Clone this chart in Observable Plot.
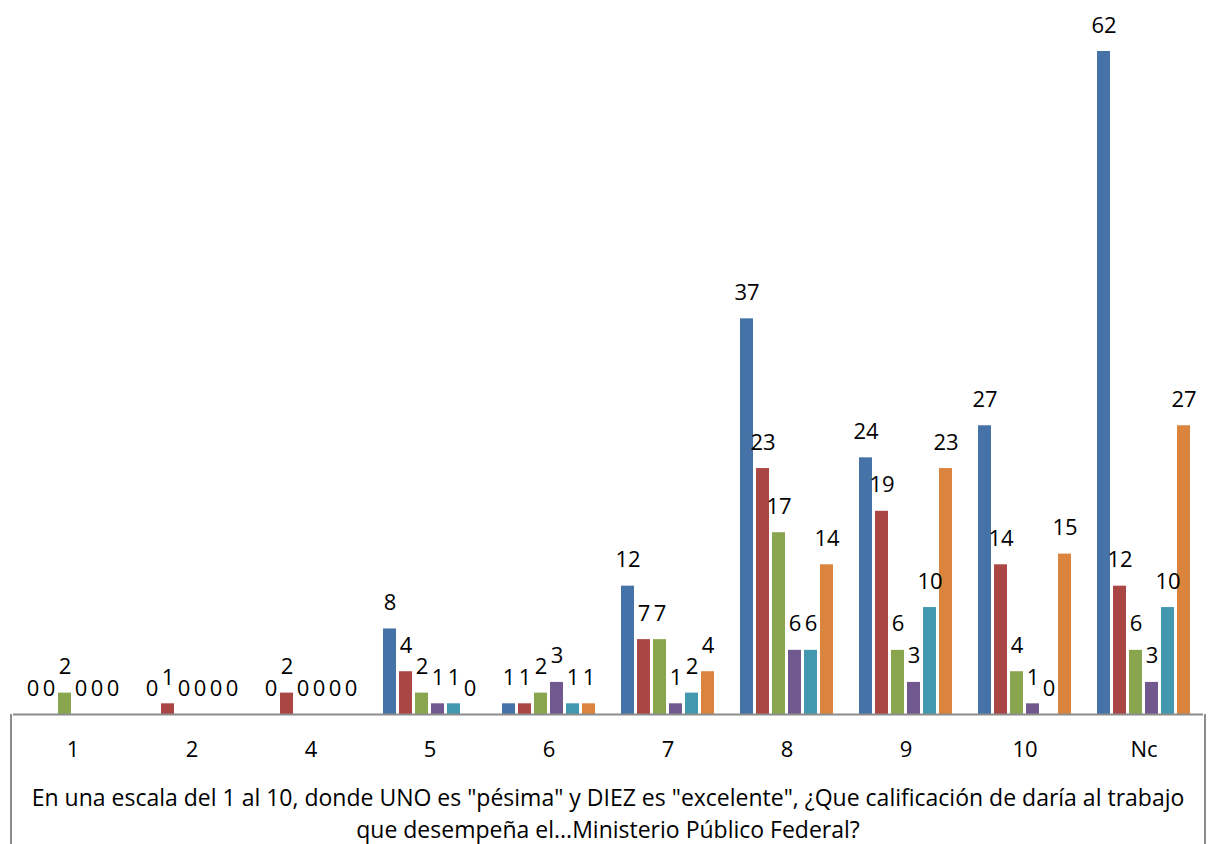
<!DOCTYPE html>
<html>
<head>
<meta charset="utf-8">
<script src="https://cdn.jsdelivr.net/npm/d3@7"></script>
<script src="https://cdn.jsdelivr.net/npm/@observablehq/plot@0.6"></script>
<style>
  html, body { margin: 0; padding: 0; background: #fff; }
  #chart svg { display: block; }
</style>
</head>
<body>
<div id="chart"></div>
<script>
// Categories (answers on the 1–10 scale, plus "No contestó")
const categories = ["1", "2", "4", "5", "6", "7", "8", "9", "10", "Nc"];
// Series names (no legend in the original)
const seriesNames = ["Serie 1", "Serie 2", "Serie 3", "Serie 4", "Serie 5", "Serie 6"];
// Values per series, in category order
const serie1 = [0, 0, 0, 8, 1, 12, 37, 24, 27, 62];
const serie2 = [0, 1, 2, 4, 1, 7, 23, 19, 14, 12];
const serie3 = [2, 0, 0, 2, 2, 7, 17, 6, 4, 6];
const serie4 = [0, 0, 0, 1, 3, 1, 6, 3, 1, 3];
const serie5 = [0, 0, 0, 1, 1, 2, 6, 10, 0, 10];
const serie6 = [0, 0, 0, 0, 1, 4, 14, 23, 15, 27];
const seriesColors = ["#4572A7", "#AA4643", "#89A54E", "#71588F", "#4198AF", "#DB843D"];
const titleLines = [
  "En una escala del 1 al 10, donde UNO es \"pésima\" y DIEZ es \"excelente\", ¿Que calificación de daría al trabajo",
  "que desempeña el...Ministerio Público Federal?"
];

const values = [serie1, serie2, serie3, serie4, serie5, serie6];
const rows = categories.flatMap((c, i) =>
  seriesNames.map((s, j) => ({cat: c, series: s, value: values[j][i]}))
);

const W = 1210, H = 844, mL = 11, mR = 5, mT = 51, mB = 130;
const font = "'Open Sans', sans-serif";

const chart = Plot.plot({
  width: W,
  height: H,
  marginLeft: mL,
  marginRight: mR,
  marginTop: mT,
  marginBottom: mB,
  style: {fontFamily: font, fontSize: "22px", color: "#000", background: "#fff", overflow: "visible"},
  fx: {domain: categories, padding: 0, label: null},
  x: {domain: seriesNames, paddingInner: 0.2, paddingOuter: 0.61, axis: null},
  y: {domain: [0, 62], axis: null},
  color: {domain: seriesNames, range: seriesColors},
  marks: [
    Plot.barY(rows, {fx: "cat", x: "series", y: "value", fill: "series"}),
    Plot.ruleY([0], {stroke: "#8c8c8c", strokeWidth: 2}),
    Plot.text(rows, {fx: "cat", x: "series", y: "value", text: d => String(d.value), dy: -26, fill: "#000", fontSize: 22}),
    Plot.axisFx({anchor: "bottom", tickSize: 0, tickPadding: 27, label: null, fontSize: 22})
  ]
});

document.getElementById("chart").appendChild(chart);

// Box below the axis and the axis title
const svg = d3.select(chart);
const yBase = H - mB;
[mL, W - mR].forEach(x => {
  svg.append("line")
    .attr("x1", x).attr("x2", x)
    .attr("y1", yBase).attr("y2", H)
    .attr("stroke", "#8c8c8c").attr("stroke-width", 2);
});
const title = svg.append("text")
  .attr("text-anchor", "middle")
  .attr("font-family", font)
  .attr("font-size", 23)
  .attr("fill", "#000");
titleLines.forEach((t, i) => {
  title.append("tspan")
    .attr("x", (mL + W - mR) / 2)
    .attr("y", yBase + 92 + i * 32)
    .text(t);
});
</script>
</body>
</html>
